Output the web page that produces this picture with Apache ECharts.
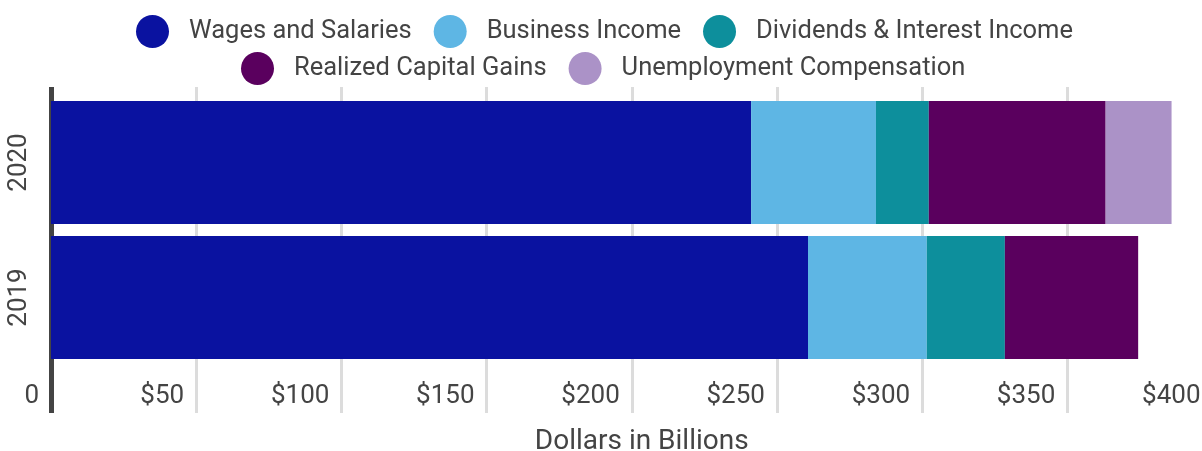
<!DOCTYPE html>
<html>
<head>
<meta charset="utf-8">
<script src="https://cdn.jsdelivr.net/npm/echarts@6/dist/echarts.min.js"></script>
<style>
  html, body { margin: 0; padding: 0; background: #fff; }
  #chart { width: 1202px; height: 451px; }
</style>
</head>
<body>
<div id="chart"></div>
<script>
  // data (billions of dollars)
  const years = ['2019', '2020']
  const wages = [260.7, 241.1]
  const business = [40.9, 43.0]
  const dividends = [26.9, 18.2]
  const capitalGains = [45.9, 60.9]
  const unemployment = [0, 22.7]
  const xTicks = [0, 50, 100, 150, 200, 250, 300, 350, 400]

  const textColor = '#444'
  const font = 'Roboto'
  const gridColor = '#dcdcdc'
  const xMin = xTicks[0], xMax = xTicks[xTicks.length - 1], xStep = xTicks[1] - xTicks[0]

  const chart = echarts.init(document.getElementById('chart'))

  const seriesList = [
    {name: 'Wages and Salaries', data: wages, color: '#0a12a0'},
    {name: 'Business Income', data: business, color: '#5eb6e4'},
    {name: 'Dividends & Interest Income', data: dividends, color: '#0d8f9c'},
    {name: 'Realized Capital Gains', data: capitalGains, color: '#5a005e'},
    {name: 'Unemployment Compensation', data: unemployment, color: '#ab92c7'}
  ]

  const legendBase = {
    icon: 'circle',
    itemWidth: 33,
    itemHeight: 33,
    itemGap: 22,
    selectedMode: false,
    textStyle: {color: textColor, fontFamily: font, fontSize: 25.5, padding: [0, 0, 0, 15]}
  }

  // helper axes: only draw ticks that extend the gridlines / the dark axis line
  const zeroTickAxis = (position, len) => ({
    type: 'value', min: xMin, max: xMax, interval: xMax, position: position,
    axisLine: {show: false},
    axisLabel: {show: false},
    splitLine: {show: false},
    axisTick: {show: true, length: len, lineStyle: {color: '#444', width: 5}}
  })
  const gridTickAxis = (position, len) => ({
    type: 'value', min: xMin, max: xMax, interval: xStep, position: position,
    axisLine: {show: false},
    axisLabel: {show: false},
    splitLine: {show: false},
    axisTick: {show: true, length: len, lineStyle: {color: gridColor, width: 3}}
  })

  chart.setOption({
    animation: false,
    legend: [
      Object.assign({}, legendBase, {left: 131, top: 10, data: seriesList.slice(0, 3).map(s => s.name)}),
      Object.assign({}, legendBase, {left: 236, top: 47, data: seriesList.slice(3).map(s => s.name)})
    ],
    grid: {left: 51, width: 1161.5, top: 95, bottom: 86, containLabel: false, outerBoundsMode: 'none'},
    xAxis: [
      {
        type: 'value', min: xMin, max: xMax, interval: xStep,
        name: 'Dollars in Billions',
        nameLocation: 'middle',
        nameGap: 63,
        nameTextStyle: {color: textColor, fontFamily: font, fontSize: 28, padding: [0, 0, 0, 20]},
        axisLine: {show: false},
        axisTick: {show: true, length: 48, lineStyle: {color: gridColor, width: 3}},
        splitLine: {show: true, lineStyle: {color: gridColor, width: 3}},
        axisLabel: {
          color: textColor, fontFamily: font, fontSize: 26,
          align: 'right', margin: 18, padding: [0, 12, 0, 0],
          formatter: v => v === 0 ? '0' : '$' + v
        }
      },
      zeroTickAxis('bottom', 48),
      gridTickAxis('top', 8),
      zeroTickAxis('top', 8)
    ],
    yAxis: {
      type: 'category',
      data: years,
      axisLine: {show: true, lineStyle: {color: '#444', width: 5}},
      axisTick: {show: false},
      axisLabel: {color: textColor, fontFamily: font, fontSize: 26, rotate: 90, margin: 19}
    },
    series: seriesList.map(s => ({
      name: s.name,
      type: 'bar',
      stack: 'total',
      barCategoryGap: '9%',
      data: s.data,
      itemStyle: {color: s.color}
    }))
  })
</script>
</body>
</html>
